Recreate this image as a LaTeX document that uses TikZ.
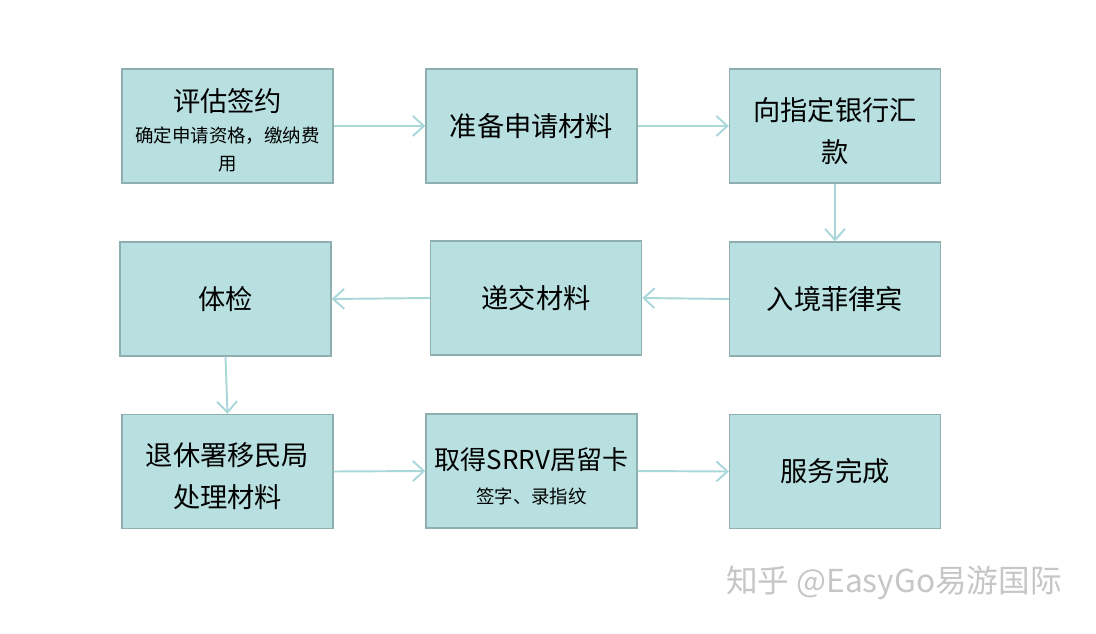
\documentclass[tikz,border=0pt]{standalone}
\usepackage{fontspec}
\setmainfont{Noto Sans CJK SC}
\usetikzlibrary{arrows.meta}
\definecolor{boxfill}{HTML}{B8E0E1}
\definecolor{boxline}{HTML}{8FAEAF}
\definecolor{linkcol}{HTML}{A9D7DA}
\tikzset{
  stage/.style={draw=boxline, fill=boxfill, line width=0.8pt, minimum width=4.22cm, minimum height=2.28cm, align=center, inner sep=1pt, font=\fontsize{15.5}{22}\selectfont},
  title/.style={font=\fontsize{15.5}{22}\selectfont},
  link/.style={-{Straight Barb[length=2.2mm,width=4mm]}, line width=1.1pt, linkcol},
  sub/.style={font=\fontsize{10.5}{14}\selectfont},
}

\begin{document}
\begin{tikzpicture}
  \useasboundingbox (0,0) rectangle (21.92,-12.68);
  % row 1
  \node[stage] (pinggu) at (4.55,-2.52) {};
  \node[title] at (4.55,-2.03) {评估签约};
  \node[sub] at (4.55,-2.72) {确定申请资格，缴纳费};
  \node[sub] at (4.55,-3.28) {用};
  \node[stage] (zhunbei) at (10.63,-2.52) {准备申请材料};
  \node[stage] (huikuan) at (16.70,-2.52) {};
  \node[title] at (16.70,-2.20) {向指定银行汇};
  \node[title] at (16.70,-3.04) {款};
  % row 2
  \node[stage] (tijian) at (4.51,-5.98) {体检};
  \node[stage] (dijiao) at (10.72,-5.96) {递交材料};
  \node[stage] (rujing) at (16.70,-5.98) {入境菲律宾};
  % row 3
  \node[stage] (tuixiu) at (4.55,-9.43) {};
  \node[title] at (4.55,-9.10) {退休署移民局};
  \node[title] at (4.55,-9.94) {处理材料};
  \node[stage] (qude) at (10.63,-9.42) {};
  \node[font=\fontsize{14.8}{20}\selectfont] at (10.63,-9.20) {取得SRRV居留卡};
  \node[sub] at (10.63,-9.93) {签字、录指纹};
  \node[stage] (wancheng) at (16.70,-9.43) {服务完成};
  % flow
  \draw[link] (pinggu.east) -- (zhunbei.west);
  \draw[link] (zhunbei.east) -- (huikuan.west);
  \draw[link] (huikuan.south) -- (rujing.north);
  \draw[link] (rujing.west) -- (dijiao.east);
  \draw[link] (dijiao.west) -- (tijian.east);
  \draw[link] (tijian.south) -- (tuixiu.north);
  \draw[link] (tuixiu.east) -- (qude.west);
  \draw[link] (qude.east) -- (wancheng.west);
  % mark
  \node[gray!45, font=\fontsize{18}{20}\selectfont] (zhihu) at (17.88,-11.66) {知乎 @EasyGo易游国际};
\end{tikzpicture}
\end{document}
